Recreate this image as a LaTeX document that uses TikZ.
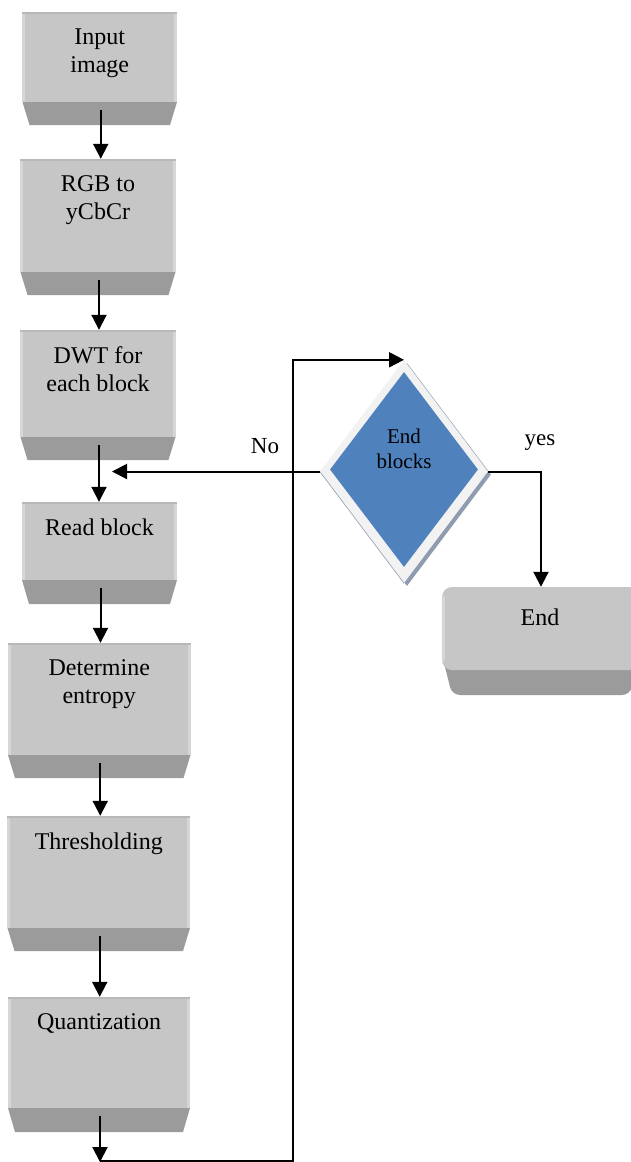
\documentclass[tikz,border=0pt]{standalone}
\usepackage{fontspec}
\setmainfont{Liberation Serif}
\usetikzlibrary{arrows.meta,shapes.geometric}
\definecolor{facegray}{HTML}{C6C6C6}
\definecolor{darkface}{HTML}{9B9B9B}
\definecolor{bevelgray}{HTML}{D6D6D6}
\definecolor{topedge}{HTML}{B8B8B8}
\definecolor{dblue}{HTML}{4F81BD}
\definecolor{dborder}{HTML}{F2F2F2}
\definecolor{dshadow}{HTML}{8E9BB0}
\tikzset{
  face/.style={rectangle, fill=facegray, inner sep=0pt, draw=none},
  boxtext/.style={anchor=north, inner sep=0pt, align=center, font=\fontsize{24}{28}\selectfont},
  dtext/.style={anchor=north, inner sep=0pt, align=center, font=\fontsize{21}{25}\selectfont},
  lbl/.style={anchor=base, inner sep=0pt, font=\fontsize{23}{27}\selectfont},
  arr/.style={line width=2pt, -{Triangle[width=15pt 0 0,length=15pt 0 0]}},
  dshape/.style={diamond, inner sep=0pt, draw=none}
}
\newcommand{\flowbox}[7]{%
  \fill[darkface] (#2,#5) -- (#3,#5) -- ({#3-7},#6) -- ({#2+7},#6) -- cycle;
  \node[face, minimum width={(#3-#2)*1pt}, minimum height={(#5-#4)*1pt}] (#1) at ({(#2+#3)/2},{(#4+#5)/2}) {};
  \fill[bevelgray] (#1.north west) rectangle ([xshift=3pt]#1.south west);
  \fill[bevelgray] (#1.north east) rectangle ([xshift=-3pt]#1.south east);
  \fill[topedge] (#1.north west) rectangle ([yshift=-2pt]#1.north east);
  \coordinate (#1s) at ({(#2+#3)/2+1},{#5+8});
  \node[boxtext] (#1t) at ([yshift=-16.5pt]#1.north) {#7};
}
\begin{document}
\begin{tikzpicture}[x=1pt,y=-1pt]
\useasboundingbox (0,0) rectangle (631,1162);
\fill[white] (0,0) rectangle (631,1162);

\flowbox{b1}{22.5}{177}{12}{102}{125}{Input\\image}
\flowbox{b2}{20.5}{175.5}{159}{272}{295}{RGB to\\yCbCr}
\flowbox{b3}{20.5}{175.5}{330}{437}{460}{DWT for\\each block}
\flowbox{b4}{22}{177}{502}{580}{604}{Read block}
\flowbox{b5}{8}{190.5}{643}{755}{778}{Determine\\entropy}
\flowbox{b6}{7.5}{190}{816}{928}{951}{Thresholding}
\flowbox{b7}{8}{190}{997}{1108}{1132}{Quantization}

\draw[arr] (b1s) -- (b1s |- b2.north);
\draw[arr] (b2s) -- (b2s |- b3.north);
\draw[arr] (b3s) -- (b3s |- b4.north);
\draw[arr] (b4s) -- (b4s |- b5.north);
\draw[arr] (b5s) -- (b5s |- b6.north);
\draw[arr] (b6s) -- (b6s |- b7.north);

% decision diamond
\node[dshape, fill=dshadow, minimum width=168pt, minimum height=223pt] (dsh) at (407,474.5) {};
\node[dshape, fill=dborder, minimum width=168pt, minimum height=223pt] (d) at (404,471.5) {};
\draw[dshadow, line width=0.6pt] (d.west) -- (d.south);
\node[dshape, fill=dblue, minimum width=148pt, minimum height=195pt] (di) at (404,469.5) {};
\node[dtext] (dt) at (404,429) {End\\blocks};

% loop from Quantization back to decision
\coordinate (qend) at (98,1162);
\coordinate (loopb) at (293,1161);
\draw[arr] (b7s) -- (b7s |- qend);
\draw[arr] (b7s |- loopb) -- (loopb) |- (d.north);

% No branch
\coordinate (noend) at (112,471.5);
\draw[arr] (d.west) -- (noend);
\node[lbl] (no) at (265,453) {No};

% End box
\fill[darkface, rounded corners=8pt] (442,655) -- (640,655) -- (630,695) -- (452,695) -- cycle;
\node[face, rounded corners=10pt, minimum width=198pt, minimum height=83pt] (e) at (541,628.5) {};
\fill[bevelgray, rounded corners=3pt] ([yshift=-8pt]e.north west) rectangle ([xshift=3pt,yshift=8pt]e.south west);
\node[lbl, font=\fontsize{24}{28}\selectfont] (et) at (540,625) {End};

% yes branch
\draw[arr] (d.east) -| (e.north);
\node[lbl] (yes) at (540,445) {yes};
\end{tikzpicture}
\end{document}
